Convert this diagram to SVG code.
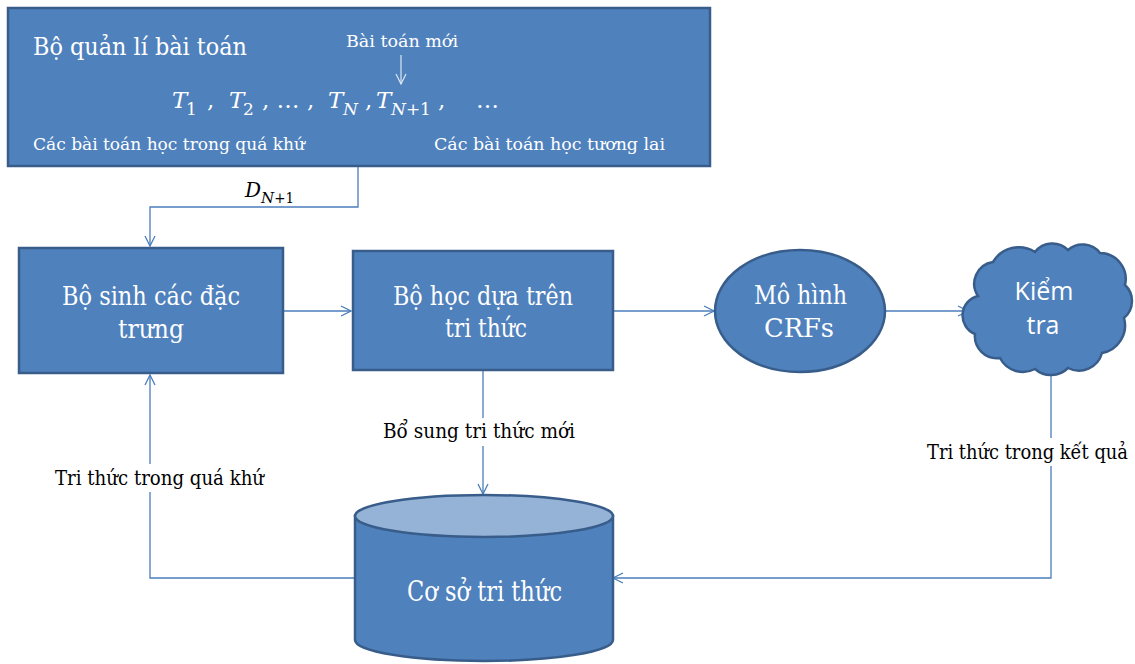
<svg xmlns="http://www.w3.org/2000/svg" width="1135" height="664" viewBox="0 0 1135 664">
<defs>
<style>
.box{fill:#4F81BD;stroke:#385D8A;stroke-width:2.5}
.wt{fill:#fff;font-family:'DejaVu Serif Condensed','DejaVu Serif','Liberation Serif',serif}
.bt{fill:#000;font-family:'DejaVu Serif Condensed','DejaVu Serif','Liberation Serif',serif}
.mi{font-family:'DejaVu Serif','Liberation Serif',serif;font-style:italic}
.ln{fill:none;stroke:#4A7EBB;stroke-width:1.3}
</style>
<marker id="ah" viewBox="0 0 12 12" refX="11" refY="6" markerWidth="12" markerHeight="12" markerUnits="userSpaceOnUse" orient="auto">
<path d="M1,1 L11,6 L1,11" fill="none" stroke="#4A7EBB" stroke-width="1.3"/>
</marker>
<marker id="ahw" viewBox="0 0 12 12" refX="11" refY="6" markerWidth="12" markerHeight="12" markerUnits="userSpaceOnUse" orient="auto">
<path d="M1,1 L11,6 L1,11" fill="none" stroke="#DCE6F2" stroke-width="1.2"/>
</marker>
</defs>
<rect width="1135" height="664" fill="#fff"/>

<g id="problem-manager">
<rect class="box" x="8" y="8" width="702" height="158"/>
<text class="wt" x="33" y="55" font-size="25" textLength="214" lengthAdjust="spacingAndGlyphs">Bộ quản lí bài toán</text>
<text class="wt" x="346" y="47" font-size="16" textLength="112" lengthAdjust="spacingAndGlyphs">Bài toán mới</text>
<line x1="401" y1="55" x2="401" y2="84" stroke="#DCE6F2" stroke-width="1.2" marker-end="url(#ahw)"/>
<text class="wt mi" y="108" font-size="23">
<tspan x="172">T</tspan><tspan x="186" dy="7" font-size="17" font-style="normal">1</tspan><tspan x="207" dy="-7" font-style="normal">,</tspan><tspan x="229">T</tspan><tspan x="243" dy="7" font-size="17" font-style="normal">2</tspan><tspan x="262" dy="-7" font-style="normal">, … ,</tspan><tspan x="328">T</tspan><tspan x="343" dy="7" font-size="17">N</tspan><tspan x="365" dy="-7" font-style="normal">,</tspan><tspan x="376">T</tspan><tspan x="391" dy="7" font-size="17">N</tspan><tspan font-size="17" font-style="normal">+1</tspan><tspan x="438" dy="-7" font-style="normal">,</tspan><tspan x="476" font-style="normal">…</tspan>
</text>
<text class="wt" x="33" y="150" font-size="17" textLength="272" lengthAdjust="spacingAndGlyphs">Các bài toán học trong quá khứ</text>
<text class="wt" x="434" y="150" font-size="17" textLength="231" lengthAdjust="spacingAndGlyphs">Các bài toán học tương lai</text>
</g>

<g id="connectors">
<polyline class="ln" points="358,167 358,207 150,207 150,246" marker-end="url(#ah)"/>
<line class="ln" x1="283" y1="311" x2="351" y2="311" marker-end="url(#ah)"/>
<line class="ln" x1="613" y1="311" x2="714" y2="311" marker-end="url(#ah)"/>
<line class="ln" x1="885" y1="311" x2="968" y2="311" marker-end="url(#ah)"/>
<line class="ln" x1="483" y1="371" x2="483" y2="494" marker-end="url(#ah)"/>
<polyline class="ln" points="1051,372 1051,578 613,578" marker-end="url(#ah)"/>
<polyline class="ln" points="355,578 150,578 150,375" marker-end="url(#ah)"/>
<rect x="378" y="418" width="210" height="28" fill="#fff"/>
<rect x="922" y="438" width="213" height="28" fill="#fff"/>
<rect x="48" y="464" width="222" height="28" fill="#fff"/>
<text class="bt" x="245" y="197" font-size="20"><tspan class="mi">D</tspan><tspan class="mi" dy="6" font-size="15">N</tspan><tspan dy="0" font-size="15">+1</tspan></text>
<text class="bt" x="383" y="438" font-size="20" textLength="192" lengthAdjust="spacingAndGlyphs">Bổ sung tri thức mới</text>
<text class="bt" x="927" y="459" font-size="20" textLength="201" lengthAdjust="spacingAndGlyphs">Tri thức trong kết quả</text>
<text class="bt" x="55" y="485" font-size="20" textLength="209" lengthAdjust="spacingAndGlyphs">Tri thức trong quá khứ</text>
</g>

<g id="feature-generator">
<rect class="box" x="19" y="248" width="264" height="125"/>
<text class="wt" x="62" y="305" font-size="26" textLength="178" lengthAdjust="spacingAndGlyphs">Bộ sinh các đặc</text>
<text class="wt" x="118" y="338" font-size="26" textLength="66" lengthAdjust="spacingAndGlyphs">trưng</text>
</g>

<g id="knowledge-learner">
<rect class="box" x="353" y="251" width="260" height="119"/>
<text class="wt" x="393" y="305" font-size="26" textLength="180" lengthAdjust="spacingAndGlyphs">Bộ học dựa trên</text>
<text class="wt" x="445" y="337" font-size="26" textLength="82" lengthAdjust="spacingAndGlyphs">tri thức</text>
</g>

<g id="crf-model">
<ellipse class="box" cx="800" cy="311" rx="85" ry="61"/>
<text class="wt" x="754" y="304" font-size="26" textLength="93" lengthAdjust="spacingAndGlyphs">Mô hình</text>
<text class="wt" x="764" y="337" font-size="26" textLength="70" lengthAdjust="spacingAndGlyphs">CRFs</text>
</g>

<g id="check">
<path class="box" d="M978,296 A22,22 0 0 1 993,262 A30,30 0 0 1 1035,252 A22,22 0 0 1 1068,250 A22,22 0 0 1 1100,253 A26,26 0 0 1 1125,285 A22,22 0 0 1 1124,318 A28,28 0 0 1 1102,353 A24,24 0 0 1 1068,368 A24,24 0 0 1 1035,369 A26,26 0 0 1 1000,358 A22,22 0 0 1 975,334 A20,20 0 0 1 978,296 Z"/>
<text x="1044" y="300" font-size="25" text-anchor="middle" fill="#fff" font-family="Open Sans, Liberation Sans, sans-serif">Kiểm</text>
<text x="1043" y="334" font-size="25" text-anchor="middle" fill="#fff" font-family="Open Sans, Liberation Sans, sans-serif">tra</text>
</g>

<g id="knowledge-base">
<path class="box" d="M355,516 L355,640 A129,21 0 0 0 613,640 L613,516 Z"/>
<ellipse cx="484" cy="516" rx="129" ry="21" fill="#95B3D7" stroke="#385D8A" stroke-width="2.5"/>
<text class="wt" x="407" y="601" font-size="28" textLength="155" lengthAdjust="spacingAndGlyphs">Cơ sở tri thức</text>
</g>
</svg>
